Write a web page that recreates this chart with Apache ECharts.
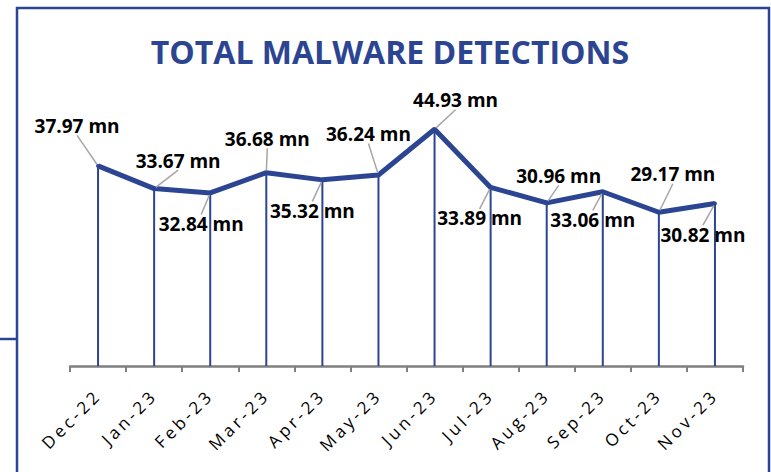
<!DOCTYPE html>
<html>
<head>
<meta charset="utf-8">
<script src="https://cdn.jsdelivr.net/npm/echarts@6/dist/echarts.min.js"></script>
<style>
    html, body { margin: 0; padding: 0; background: #fff; }
    #chart { width: 771px; height: 472px; }
</style>
</head>
<body>
<div id="chart"></div>
<script>
const months = ['Dec-22', 'Jan-23', 'Feb-23', 'Mar-23', 'Apr-23', 'May-23', 'Jun-23', 'Jul-23', 'Aug-23', 'Sep-23', 'Oct-23', 'Nov-23']
const detections = [37.97, 33.67, 32.84, 36.68, 35.32, 36.24, 44.93, 33.89, 30.96, 33.06, 29.17, 30.82]

// label offsets from each point, px
const labelOffsets = [
    [-21, -40], [24, -28], [-9, 31], [1, -34], [-10, 31], [-10, -41],
    [21, -29], [-11, 31], [12, -27], [-10, 28], [14, -38], [-12, 31]
]

const blue = '#2c4593'
const chartEl = document.getElementById('chart')
const chart = echarts.init(chartEl, null, { renderer: 'svg' })

// rotated category labels are letter-spaced in the original
chart.on('finished', () => {
    chartEl.querySelectorAll('svg text').forEach(t => {
        const tr = t.transform && t.transform.baseVal.consolidate()
        if (tr && Math.abs(tr.matrix.b) > 0.1) t.style.letterSpacing = '3.5px'
    })
})

chart.setOption({
    backgroundColor: '#fff',
    animation: false,
    title: {
        text: 'TOTAL MALWARE DETECTIONS',
        left: 385,
        textAlign: 'center',
        top: 30,
        textStyle: {
            fontFamily: 'Open Sans',
            fontWeight: 'bold',
            fontSize: 32,
            color: blue
        }
    },
    graphic: [
        {
            type: 'rect',
            shape: { x: 17, y: 8, width: 752, height: 480 },
            style: { fill: 'none', stroke: blue, lineWidth: 2.5 }
        },
        {
            type: 'line',
            shape: { x1: 0, y1: 339, x2: 17, y2: 339 },
            style: { stroke: blue, lineWidth: 2.5 }
        }
    ],
    grid: {
        left: 70,
        right: 28,
        top: 102.5,
        bottom: 106
    },
    xAxis: {
        type: 'category',
        data: months,
        boundaryGap: true,
        axisLine: { lineStyle: { color: '#7f7f7f', width: 2.5 } },
        axisTick: { show: true, length: 6, lineStyle: { color: '#7f7f7f', width: 2 } },
        axisLabel: {
            rotate: 45,
            margin: 26,
            fontFamily: 'Open Sans',
            fontSize: 17,
            color: '#000'
        }
    },
    yAxis: {
        type: 'value',
        min: 0,
        max: 50,
        show: false,
        splitLine: { show: false }
    },
    series: [
        {
            // drop lines
            type: 'bar',
            data: detections,
            barWidth: 2,
            itemStyle: { color: blue },
            z: 1,
            silent: true
        },
        {
            type: 'line',
            data: detections,
            symbol: 'circle',
            symbolSize: 4,
            showSymbol: true,
            itemStyle: { color: blue },
            lineStyle: { color: blue, width: 5 },
            z: 3,
            label: {
                show: true,
                position: 'inside',
                formatter: p => p.value.toFixed(2) + ' mn',
                fontFamily: 'Open Sans',
                fontWeight: 'bold',
                fontSize: 19,
                color: '#000',
                padding: [5, 3, 5, 3]
            },
            labelLine: {
                show: true,
                length2: 0,
                lineStyle: { color: '#a6a6a6', width: 1.5 }
            },
            labelLayout: params => ({
                dx: labelOffsets[params.dataIndex][0],
                dy: labelOffsets[params.dataIndex][1]
            })
        }
    ]
})
</script>
</body>
</html>
